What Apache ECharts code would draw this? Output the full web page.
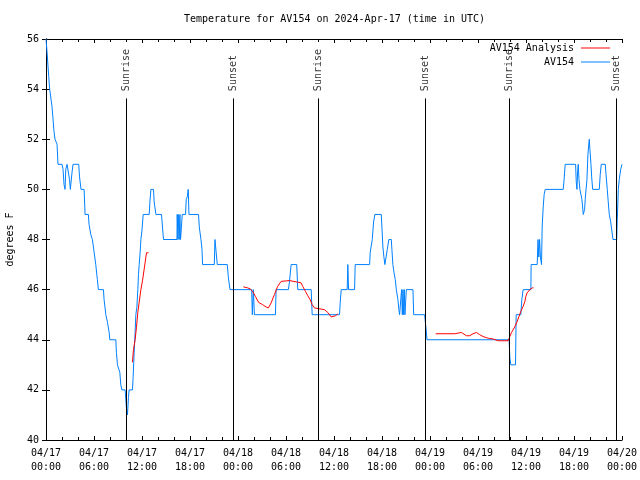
<!DOCTYPE html>
<html>
<head>
<meta charset="utf-8">
<script src="https://cdn.jsdelivr.net/npm/echarts@6/dist/echarts.min.js"></script>
<style>html,body{margin:0;padding:0;background:#fff}#c{width:640px;height:480px}</style>
</head>
<body>
<div id="c"></div>
<script>
// Hours since 2024-04-17 00:00 UTC
const blueHours = [0.0,0.125,0.34,0.46,0.66,0.75,0.88,1.00,1.13,1.29,1.38,1.50,2.00,2.13,2.25,2.38,2.47,2.63,2.88,2.94,3.04,3.26,3.38,4.09,4.19,4.38,4.76,4.85,4.88,5.30,5.38,5.60,5.80,6.01,6.22,6.42,6.55,7.18,7.26,7.48,7.68,7.89,7.98,8.73,8.80,8.93,9.23,9.35,9.48,9.89,10.05,10.18,10.31,10.39,10.81,10.89,11.02,11.14,11.23,11.36,11.48,11.56,11.65,11.77,11.86,11.98,12.15,12.90,12.99,13.11,13.44,13.52,13.74,14.44,14.56,14.69,16.37,16.40,16.49,16.53,16.65,16.74,16.82,16.94,17.03,17.44,17.53,17.66,17.78,17.87,19.07,19.16,19.37,19.50,19.57,21.04,21.12,21.29,21.41,22.66,22.79,23.00,25.71,25.79,25.92,26.05,28.68,28.76,30.30,30.43,30.64,31.34,31.47,33.15,33.27,36.69,36.78,36.90,37.65,37.73,37.82,38.57,38.65,40.45,40.53,40.78,40.95,41.11,41.91,41.99,42.11,42.24,42.36,42.54,42.66,42.86,43.16,43.24,43.36,43.49,43.66,43.79,43.99,44.11,44.20,44.29,44.37,44.45,44.54,44.62,44.70,44.79,44.87,45.04,45.87,45.96,47.33,47.42,47.55,47.62,57.89,57.98,58.10,58.69,58.77,59.35,59.48,59.64,60.61,60.64,61.40,61.50,61.60,61.70,61.80,61.94,62.02,62.15,62.27,62.40,64.65,64.74,64.90,66.20,66.28,66.37,66.45,66.53,66.62,66.74,66.99,67.16,67.33,67.40,67.62,67.74,67.91,67.99,68.12,68.21,68.33,69.16,69.28,69.41,69.91,70.00,70.16,70.28,70.41,70.59,70.75,70.87,71.34,71.41,71.54,71.66,71.84,72.0];
const blueTemps = [56.0,55.5,54.5,54.0,54.0,53.3,52.8,52.3,52.0,52.0,51.8,51.0,51.0,50.8,50.2,50.0,50.8,51.0,51.0,50.4,50.0,50.7,51.0,51.0,50.5,50.0,50.0,49.3,49.0,49.0,48.6,48.2,48.0,47.5,47.0,46.4,46.0,46.0,45.6,45.0,44.7,44.3,44.0,44.0,43.5,43.0,42.7,42.2,42.0,42.0,41.3,41.0,41.7,42.0,42.0,42.5,43.5,44.3,45.0,45.3,46.0,46.6,47.0,47.5,48.0,48.3,49.0,49.0,49.5,50.0,50.0,49.5,49.0,49.0,48.5,48.0,48.0,49.0,48.0,49.0,48.0,49.0,48.0,48.0,49.0,49.0,49.6,49.7,50.0,49.0,49.0,48.5,48.0,47.6,47.0,47.0,48.0,48.0,47.0,47.0,46.5,46.0,46.0,45.0,46.0,45.0,45.0,46.0,46.0,46.3,47.0,47.0,46.0,46.0,45.0,45.0,45.5,46.0,46.0,47.0,46.0,46.0,47.0,47.0,47.5,48.0,48.7,49.0,49.0,48.5,47.7,47.3,47.0,47.0,47.6,48.0,48.0,47.6,47.0,46.7,46.4,46.0,45.6,45.2,45.0,45.0,45.7,46.0,45.0,46.0,45.0,46.0,45.0,46.0,46.0,45.0,45.0,44.7,44.3,44.0,44.0,43.3,43.0,43.0,45.0,45.0,45.6,46.0,46.0,47.0,47.0,48.0,47.3,48.0,47.3,47.0,48.5,49.3,49.8,50.0,50.0,50.3,51.0,51.0,50.3,50.0,50.7,51.0,50.4,50.0,49.6,49.0,49.2,49.6,50.4,51.4,52.0,51.6,51.0,50.5,50.0,50.0,50.6,51.0,51.0,50.6,50.0,49.5,49.0,48.7,48.3,48.0,48.0,48.8,50.0,50.4,50.8,51.0];

const analysisSeg1Hours = [10.81,10.93,11.14,11.31,11.48,11.65,11.86,12.06,12.31,12.56,12.81];
const analysisSeg1Temps = [43.1,43.6,44.0,44.5,45.1,45.5,46.0,46.35,46.9,47.47,47.47];
const analysisSeg2Hours = [24.67,25.21,25.51,25.83,26.17,26.58,27.08,27.51,27.80,28.14,28.55,28.96,29.39,29.59,30.43,31.27,31.89,32.09,32.43,32.72,33.02,33.27,33.56,33.77,34.81,35.22,35.65,35.85,36.19,36.48];
const analysisSeg2Temps = [46.11,46.07,46.03,45.93,45.73,45.49,45.40,45.31,45.27,45.47,45.80,46.13,46.33,46.36,46.36,46.31,46.27,46.13,45.93,45.76,45.60,45.40,45.27,45.20,45.20,45.09,44.91,44.87,44.96,45.03];
const analysisSeg3Hours = [48.71,51.09,51.30,51.93,52.13,52.56,52.97,53.38,53.81,54.22,54.63,55.06,55.47,55.89,56.51,57.77,57.98,58.19,58.52,58.82,59.10,59.35,59.64,59.86,59.98,60.14,60.48,60.77,60.94];
const analysisSeg3Temps = [44.24,44.24,44.29,44.29,44.24,44.16,44.16,44.24,44.29,44.20,44.13,44.08,44.05,44.03,43.96,43.96,44.13,44.29,44.47,44.67,44.91,45.13,45.33,45.53,45.73,45.87,46.00,46.07,46.07];

const sunEventHours = [10.04, 23.44, 34.02, 47.41, 57.91, 71.31];
const sunEventNames = ['Sunrise','Sunset','Sunrise','Sunset','Sunrise','Sunset'];

const xTickLabels = ['04/17\n00:00','04/17\n06:00','04/17\n12:00','04/17\n18:00','04/18\n00:00','04/18\n06:00','04/18\n12:00','04/18\n18:00','04/19\n00:00','04/19\n06:00','04/19\n12:00','04/19\n18:00','04/20\n00:00'];

const FONT = 'DejaVu Sans Mono';
const zip = (a, b) => a.map((v, i) => [v, b[i]]);

const chart = echarts.init(document.getElementById('c'), null, {renderer: 'canvas'});

const baseX = {
  type: 'value', min: 0, max: 72, interval: 6,
  axisLine: {show: true, lineStyle: {color: '#000', width: 1}},
  axisTick: {show: true, inside: true, length: 4, lineStyle: {color: '#000'}},
  minorTick: {show: true, splitNumber: 3, length: 3, lineStyle: {color: '#000'}},
  splitLine: {show: false}, minorSplitLine: {show: false}
};
const baseY = {
  type: 'value', min: 40, max: 56, interval: 2,
  axisLine: {show: true, lineStyle: {color: '#000', width: 1}},
  axisTick: {show: true, inside: true, length: 4, lineStyle: {color: '#000'}},
  splitLine: {show: false}
};

const redSeries = [[analysisSeg1Hours, analysisSeg1Temps],[analysisSeg2Hours, analysisSeg2Temps],[analysisSeg3Hours, analysisSeg3Temps]].map(([h, t]) => ({
  name: 'AV154 Analysis', type: 'line', data: zip(h, t), symbol: 'none',
  lineStyle: {color: '#ff0000', width: 1}, itemStyle: {color: '#ff0000'}, z: 4,
  xAxisIndex: 0, yAxisIndex: 0
}));

const legendCommon = {right: 30, padding: 0, align: 'right', orient: 'vertical', icon: 'rect',
  itemWidth: 29, itemHeight: 1, textStyle: {fontFamily: FONT, fontSize: 10, color: '#000', padding: [0, 2, 0, 0]}};

const option = {
  animation: false,
  title: {
    text: 'Temperature for AV154 on 2024-Apr-17 (time in UTC)',
    left: 184, top: 14, padding: 0,
    textStyle: {fontFamily: FONT, fontSize: 10, fontWeight: 'normal', color: '#000'}
  },
  legend: [
    Object.assign({data: ['AV154 Analysis'], top: 43}, legendCommon),
    Object.assign({data: ['AV154'], top: 57}, legendCommon)
  ],
  grid: {left: 46, right: 18, top: 39, bottom: 40, containLabel: false, outerBoundsMode: 'none'},
  xAxis: [
    Object.assign({}, baseX, {position: 'bottom',
      axisLabel: {show: true, margin: 6, fontFamily: FONT, fontSize: 10, color: '#000', lineHeight: 14,
        formatter: v => xTickLabels[Math.round(v / 6)]}}),
    Object.assign({}, baseX, {position: 'top', axisLabel: {show: false}})
  ],
  yAxis: [
    Object.assign({}, baseY, {position: 'left', name: 'degrees F', nameLocation: 'middle', nameRotate: 90, nameGap: 31,
      nameTextStyle: {fontFamily: FONT, fontSize: 10, color: '#000'},
      axisLabel: {show: true, margin: 7, fontFamily: FONT, fontSize: 10, color: '#000'}}),
    Object.assign({}, baseY, {position: 'right', axisLabel: {show: false}})
  ],
  series: [
    {
      name: 'sun', type: 'scatter', symbolSize: 1, itemStyle: {color: 'rgba(0,0,0,0)'}, silent: true, z: 2,
      data: sunEventHours.map((h, i) => ({value: [h, 53.88], label: {formatter: sunEventNames[i]}})),
      label: {show: true, position: 'inside', rotate: 90, align: 'left', verticalAlign: 'middle', offset: [1, 0],
        fontFamily: FONT, fontSize: 10, color: '#000'},
      markLine: {
        silent: true, symbol: ['none', 'none'], animation: false,
        label: {show: false},
        lineStyle: {color: '#000', width: 1, type: 'solid'},
        data: sunEventHours.map(h => [{coord: [h, 53.63]}, {coord: [h, 40]}])
      }
    },
    {
      name: 'AV154', type: 'line', data: zip(blueHours, blueTemps), symbol: 'none',
      lineStyle: {color: '#0080ff', width: 1}, itemStyle: {color: '#0080ff'}, z: 3
    }
  ].concat(redSeries)
};
chart.setOption(option);
</script>
</body>
</html>
